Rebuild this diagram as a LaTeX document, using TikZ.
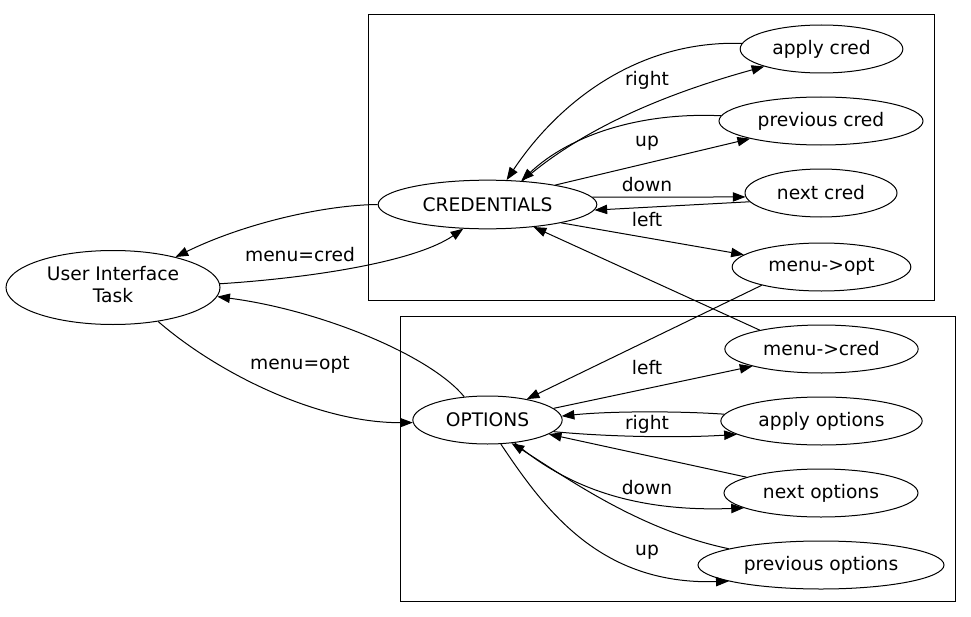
\documentclass[tikz,border=0pt]{standalone}
\usepackage{fontspec}
\setmainfont{DejaVu Sans}
\usetikzlibrary{arrows.meta,shapes.geometric}
\newcommand{\nb}[1]{\makebox[0pt]{#1}}
\tikzset{
  st/.style={draw, ellipse, inner sep=0pt, line width=0.75pt},
  lbl/.style={inner sep=0pt, font=\fontsize{14pt}{16pt}\selectfont},
  edge/.style={line width=0.75pt, -{Triangle[length=9.5pt,width=7pt]}},
  cluster/.style={draw, line width=0.75pt}
}
\begin{document}
\begin{tikzpicture}[x=0.75pt,y=-0.75pt,font=\fontsize{14pt}{16pt}\selectfont]
\useasboundingbox (0,0) rectangle (971,617);
% clusters
\draw[cluster] (368,15) rectangle (934,300);
\draw[cluster] (400,316) rectangle (955,601);
% nodes
\node[st, minimum width=160.5pt, minimum height=55.5pt] (ui) at (113,287.5) {\nb{\begin{tabular}{@{}c@{}}User Interface\\[0.5pt]Task\end{tabular}}};
\node[st, minimum width=164pt, minimum height=36.5pt] (cred) at (487.5,204.5) {\nb{CREDENTIALS}};
\node[st, minimum width=122pt, minimum height=36pt] (applyc) at (821.5,49) {\nb{apply cred}};
\node[st, minimum width=153pt, minimum height=36pt] (prevc) at (821,121) {\nb{previous cred}};
\node[st, minimum width=114pt, minimum height=36pt] (nextc) at (821,193) {\nb{next cred}};
\node[st, minimum width=134pt, minimum height=36pt] (mopt) at (821.5,267) {\nb{menu->opt}};
\node[st, minimum width=145pt, minimum height=36pt] (mcred) at (821.5,349) {\nb{menu->cred}};
\node[st, minimum width=151pt, minimum height=36pt] (applyo) at (821.5,421) {\nb{apply options}};
\node[st, minimum width=145.5pt, minimum height=36pt] (nexto) at (821,493) {\nb{next options}};
\node[st, minimum width=184.5pt, minimum height=36pt] (prevo) at (821,565) {\nb{previous options}};
\node[st, minimum width=112pt, minimum height=36pt] (opt) at (487.5,420) {\nb{OPTIONS}};
% labels
\node[lbl] (l1) at (300,255) {menu=cred};
\node[lbl] (l2) at (300,365) {menu=opt};
\node[lbl] (l3) at (647,80) {right};
\node[lbl] (l4) at (647,143) {up};
\node[lbl] (l5) at (647,185) {down};
\node[lbl] (l6) at (647,220) {left};
\node[lbl] (l7) at (647,368) {left};
\node[lbl] (l8) at (647,424) {right};
\node[lbl] (l9) at (647,488) {down};
\node[lbl] (l10) at (647,552) {up};
% edges
\draw[edge] (cred.180) .. controls (325,205) and (245,223) .. (ui.26);
\draw[edge] (ui.2) .. controls (310,278) and (415,262) .. (cred.-135);
\draw[edge] (opt.135) .. controls (430,355) and (320,310) .. (ui.-5);
\draw[edge] (ui.-37) .. controls (220,375) and (320,423) .. (opt.182);
\draw[edge] (cred.34) .. controls (575,135) and (650,98) .. (applyc.197);
\draw[edge] (applyc.176) .. controls (640,40) and (560,100) .. (cred.52);
\draw[edge] (prevc.177) .. controls (640,112) and (570,135) .. (cred.35);
\draw[edge] (cred.16) -- (prevc.194);
\draw[edge] (cred.4) -- (nextc.183);
\draw[edge] (nextc.187) -- (cred.-3);
\draw[edge] (cred.-14) -- (mopt.171);
\draw[edge] (mopt.197) -- (opt.28);
\draw[edge] (mcred.163) -- (cred.-26);
\draw[edge] (opt.10) -- (mcred.194);
\draw[edge] (applyo.176) .. controls (680,411) and (610,411) .. (opt.3);
\draw[edge] (opt.-10) .. controls (610,437) and (680,438) .. (applyo.189);
\draw[edge] (nexto.168) -- (opt.-13);
\draw[edge] (opt.-40) .. controls (570,490) and (640,512) .. (nexto.191);
\draw[edge] (prevo.170) .. controls (640,530) and (570,480) .. (opt.-44);
\draw[edge] (opt.-61) .. controls (545,510) and (600,585) .. (prevo.190);
\end{tikzpicture}
\end{document}
